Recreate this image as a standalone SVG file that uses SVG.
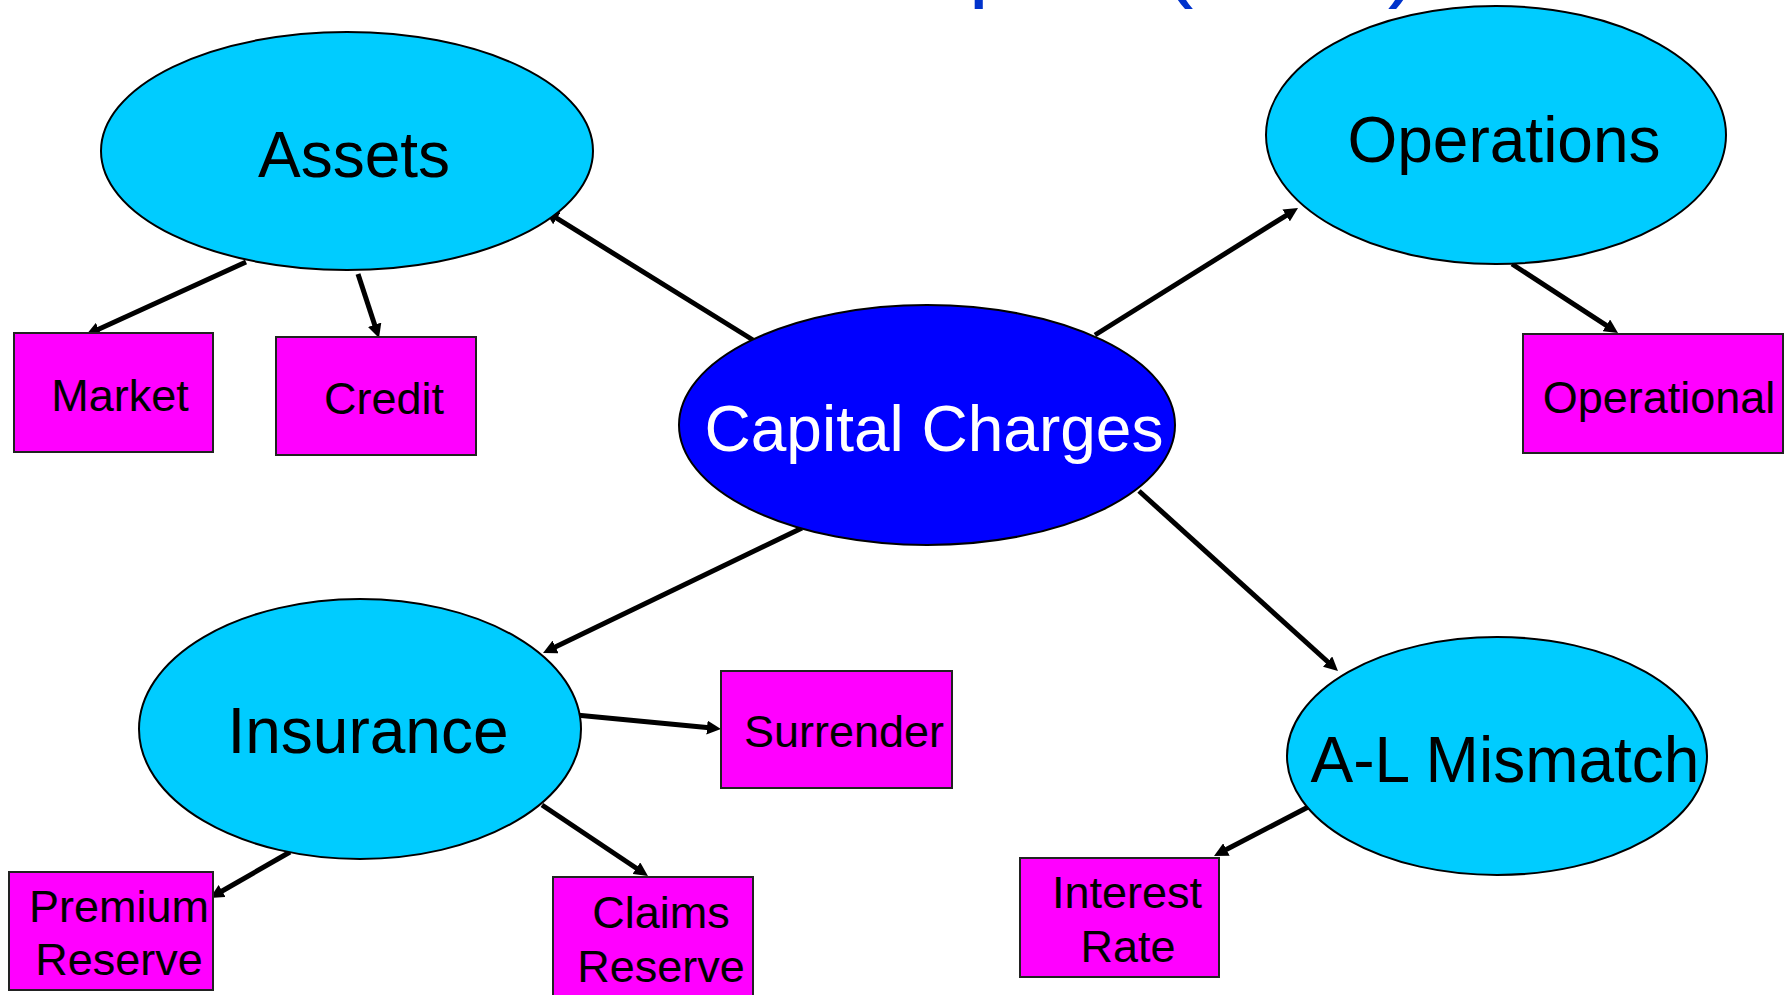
<svg xmlns="http://www.w3.org/2000/svg" width="1789" height="995" viewBox="0 0 1789 995">
<defs>
<style>
.ell{fill:#00CCFF;stroke:#000;stroke-width:2}
.core{fill:#0000FF;stroke:#000;stroke-width:2}
.box{fill:#FF00FF;stroke:#222;stroke-width:2}
.big{font-family:"Liberation Sans",Arial,sans-serif;font-size:64px;text-anchor:middle;fill:#000}
.sm{font-family:"Liberation Sans",Arial,sans-serif;font-size:45px;text-anchor:middle;fill:#000}
.title{font-family:"Liberation Sans",Arial,sans-serif;font-size:92px;fill:#0033CC}
.con line{stroke:#000;stroke-width:5;marker-end:url(#ah)}
</style>
<marker id="ah" markerUnits="userSpaceOnUse" markerWidth="15" markerHeight="14" refX="5" refY="7" orient="auto">
<path d="M0,0 L14,7 L0,14 Z" fill="#000"/>
</marker>
</defs>
<rect width="1789" height="995" fill="#fff"/>
<text class="title" x="360" y="-10">Risk Based Capital (RBC)</text>
<g class="con" id="connectors">
<line x1="753" y1="340" x2="552.6" y2="215.7"/>
<line x1="1095" y1="335" x2="1290.4" y2="212.8"/>
<line x1="802" y1="528" x2="551.1" y2="649.1"/>
<line x1="1139" y1="491" x2="1331.3" y2="665"/>
<line x1="246" y1="262" x2="94.2" y2="331.3"/>
<line x1="358" y1="274" x2="376.2" y2="329.5"/>
<line x1="1512" y1="264" x2="1610.5" y2="328.1"/>
<line x1="576" y1="715" x2="712" y2="728.1"/>
<line x1="290" y1="852" x2="217.8" y2="893.5"/>
<line x1="542" y1="805" x2="640.5" y2="871"/>
<line x1="1312" y1="805" x2="1222" y2="851.8"/>
</g>
<g id="assets"><ellipse class="ell" cx="347" cy="151" rx="246" ry="119"/><text class="big" x="354" y="177">Assets</text></g>
<g id="operations"><ellipse class="ell" cx="1496" cy="135" rx="230" ry="129"/><text class="big" x="1504" y="162">Operations</text></g>
<g id="capital"><ellipse class="core" cx="927" cy="425" rx="248" ry="120"/><text class="big" x="934" y="451" style="fill:#fff">Capital Charges</text></g>
<g id="insurance"><ellipse class="ell" cx="360" cy="729" rx="221" ry="130"/><text class="big" x="368" y="753">Insurance</text></g>
<g id="almismatch"><ellipse class="ell" cx="1497" cy="756" rx="210" ry="119"/><text class="big" x="1505" y="782">A-L Mismatch</text></g>
<g id="market"><rect class="box" x="14" y="333" width="199" height="119"/><text class="sm" x="120" y="411">Market</text></g>
<g id="credit"><rect class="box" x="276" y="337" width="200" height="118"/><text class="sm" x="384" y="414">Credit</text></g>
<g id="operational"><rect class="box" x="1523" y="334" width="260" height="119"/><text class="sm" x="1659" y="413">Operational</text></g>
<g id="surrender"><rect class="box" x="721" y="671" width="231" height="117"/><text class="sm" x="844" y="747">Surrender</text></g>
<g id="premium"><rect class="box" x="9" y="872" width="204" height="118"/><text class="sm" x="119" y="922">Premium</text><text class="sm" x="119" y="975">Reserve</text></g>
<g id="claims"><rect class="box" x="553" y="877" width="200" height="122"/><text class="sm" x="661" y="928">Claims</text><text class="sm" x="661" y="982">Reserve</text></g>
<g id="interest"><rect class="box" x="1020" y="858" width="199" height="119"/><text class="sm" x="1127" y="908">Interest</text><text class="sm" x="1128" y="962">Rate</text></g>
</svg>
